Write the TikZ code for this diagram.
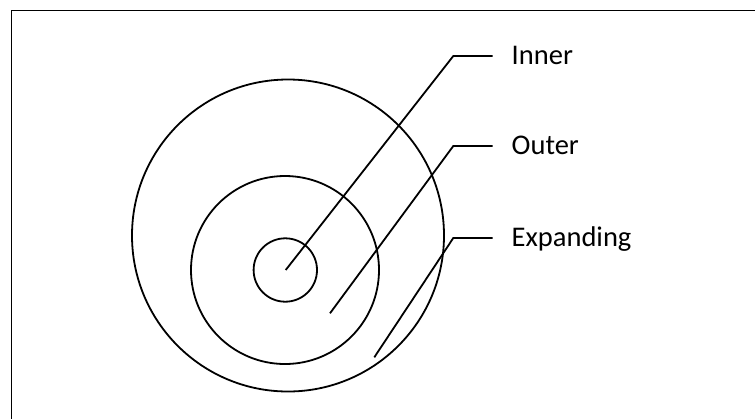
\documentclass[tikz,border=0pt]{standalone}
\usepackage{fontspec}
\setmainfont{Carlito}
\usepackage{tikz}
\usetikzlibrary{positioning}

\begin{document}
\begin{tikzpicture}[
  x=1bp,y=-1bp,
  ring/.style={draw,circle,line width=1.8bp,inner sep=0pt,outer sep=0pt},
  lbl/.style={anchor=west,inner sep=0pt,outer sep=19bp,text height=17.7bp,text depth=0pt,font=\fontsize{28.5bp}{30bp}\selectfont},
  lead/.style={line width=1.8bp,line join=miter}
]
\useasboundingbox (0,0) rectangle (755,419);
\draw[line width=1.6bp] (11.5,419) -- (11.5,10.5) -- (755,10.5);
\node[ring,minimum size=312bp] (expand) at (288,235.5) {};
\node[ring,minimum size=188bp] (outer) at (285,270) {};
\node[ring,minimum size=63.4bp] (inner) at (285.3,270) {};
\coordinate (innertip) at (285.7,270);
\coordinate (outertip) at (330,313.3);
\coordinate (expandtip) at (374.3,357.3);
\coordinate (innerbend) at (453.3,56);
\coordinate (outerbend) at (453.3,146);
\coordinate (expandbend) at (453.3,238);
\node[lbl,right=39.4bp of innerbend,anchor=west] (innerlbl) {Inner};
\node[lbl,right=39.4bp of outerbend,anchor=west] (outerlbl) {Outer};
\node[lbl,right=39.4bp of expandbend,anchor=west] (expandlbl) {Expanding};
\draw[lead] (innertip) -- (innerbend) -- (innerlbl.west);
\draw[lead] (outertip) -- (outerbend) -- (outerlbl.west);
\draw[lead] (expandtip) -- (expandbend) -- (expandlbl.west);
\end{tikzpicture}
\end{document}
